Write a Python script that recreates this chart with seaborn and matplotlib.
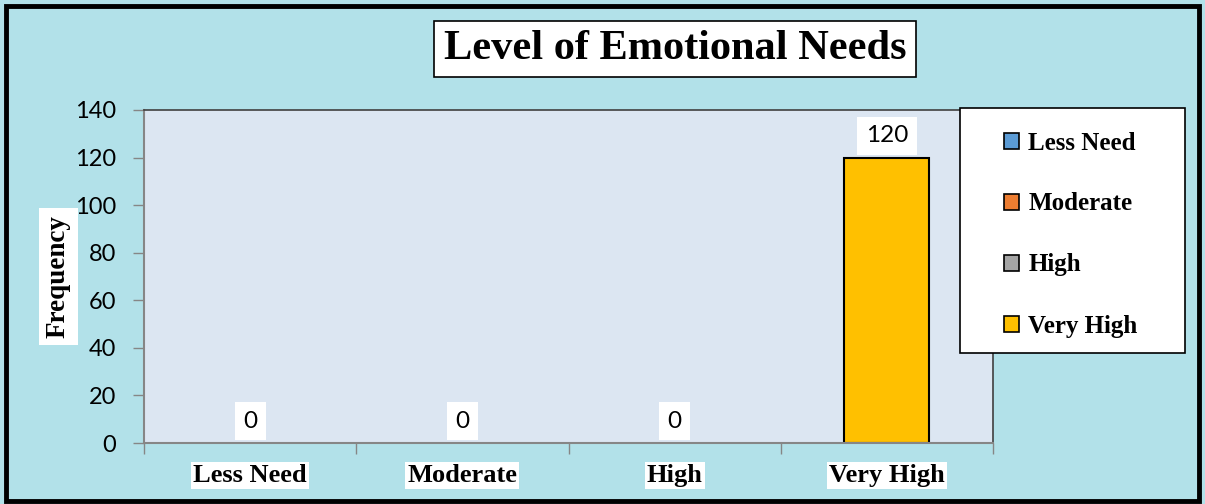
import pandas as pd
import matplotlib
matplotlib.use("Agg")
import matplotlib.pyplot as plt
from matplotlib.patches import Rectangle
import seaborn as sns

# ------------------------------
# data

LEVELS = ["Less Need", "Moderate", "High", "Very High"]
FREQUENCY = [0, 0, 0, 120]
Y_TICKS = [0, 20, 40, 60, 80, 100, 120, 140]

LEVEL_COLORS = ["#5b9bd5", "#ed7d31", "#a5a5a5", "#ffc000"]

BG = "#b2e1e9"          # watery background (flat approximation)
PLOT_BG = "#dce6f2"
SERIF = "Liberation Serif"
SANS = "Lato"

DPI = 100
W, H = 1205, 504
FIGSIZE = (W / DPI, H / DPI)


def px_x(x):
    return x / W


def px_y(y):
    return 1 - y / H


df = pd.DataFrame({"level": LEVELS, "freq": FREQUENCY})

sns.set_style("white")
plt.rcParams["font.family"] = [SANS, "DejaVu Sans"]
plt.rcParams["text.color"] = "black"
plt.rcParams["xtick.labelcolor"] = "black"
plt.rcParams["ytick.labelcolor"] = "black"
plt.rcParams["axes.labelcolor"] = "black"

fig = plt.figure(figsize=FIGSIZE, dpi=DPI, facecolor=BG)
ax = fig.add_axes([px_x(144), px_y(443), px_x(993 - 144), (443 - 110) / H])
ax.set_facecolor(PLOT_BG)

sns.barplot(data=df, x="level", y="freq", hue="level", palette=LEVEL_COLORS,
            hue_order=LEVELS, order=LEVELS, width=0.4, dodge=False, saturation=1,
            edgecolor="black", linewidth=1.5, legend=True, ax=ax)

# zero bars should not leave an outline on the baseline
for p in ax.patches:
    if p.get_height() == 0:
        p.set_linewidth(0)

for cont in ax.containers:
    ax.bar_label(cont, padding=8, fontsize=17.5, family=SANS, color="black",
                 bbox=dict(facecolor="white", edgecolor="none",
                           boxstyle="square,pad=0.35"))

ax.set_ylim(0, 140)
ax.set_xlim(-0.5, 3.5)
ax.set_yticks(Y_TICKS)
ax.tick_params(axis="y", length=8, width=1, color="#868686", pad=12,
               labelsize=17, left=True, labelcolor="black")
ax.set_xticks(range(len(LEVELS)))
ax.set_xticklabels(LEVELS, fontsize=19, family=SERIF, fontweight="bold")
ax.tick_params(axis="x", length=0, pad=15, labelcolor="black")
for lab in ax.get_xticklabels():
    lab.set_bbox(dict(facecolor="white", edgecolor="none", boxstyle="square,pad=0.08"))
ax.set_xticks([-0.5, 0.5, 1.5, 2.5, 3.5], minor=True)
ax.tick_params(axis="x", which="minor", length=8, width=1, color="#868686", bottom=True)

ax.set_xlabel("")
ax.set_ylabel("Frequency", fontsize=19.5, family=SERIF, fontweight="bold", color="black",
              bbox=dict(facecolor="white", edgecolor="none", boxstyle="square,pad=0.25"))
ax.yaxis.set_label_coords((71 - 144) / (993 - 144), 0.5)

for side in ["left", "bottom"]:
    ax.spines[side].set_color("#868686")
    ax.spines[side].set_linewidth(1.5)
for side in ["top", "right"]:
    ax.spines[side].set_color("#404040")
    ax.spines[side].set_linewidth(1.2)

# legend: move out of the axes, draw its box separately
handles, labels = ax.get_legend_handles_labels()
ax.get_legend().remove()
for h in handles:
    h.set_edgecolor("black")
    h.set_linewidth(1.2)
fig.patches.append(Rectangle((px_x(960), px_y(353)), px_x(1185 - 960), (353 - 108) / H,
                             transform=fig.transFigure, facecolor="white",
                             edgecolor="black", linewidth=1.2, zorder=1))
leg = fig.legend(handles, labels, loc="upper left",
                 bbox_to_anchor=(px_x(991), px_y(119)),
                 frameon=False, prop={"family": SERIF, "weight": "bold", "size": 18},
                 handlelength=0.6, handleheight=0.6, handletextpad=0.4,
                 labelspacing=1.52, borderpad=0)
leg.set_zorder(3)

# title in a white box
fig.text(px_x(675), px_y(49), "Level of Emotional Needs", ha="center", va="center",
         fontsize=30.5, family=SERIF, fontweight="bold", color="black",
         bbox=dict(facecolor="white", edgecolor="black", linewidth=1.2,
                   boxstyle="square,pad=0.22"))

# outer black frame
fig.patches.append(Rectangle((px_x(6), px_y(501)), px_x(1199 - 6), (501 - 6) / H,
                             transform=fig.transFigure, facecolor="none",
                             edgecolor="black", linewidth=3.5, zorder=5))

fig.savefig("out.png", dpi=DPI, facecolor=BG)
